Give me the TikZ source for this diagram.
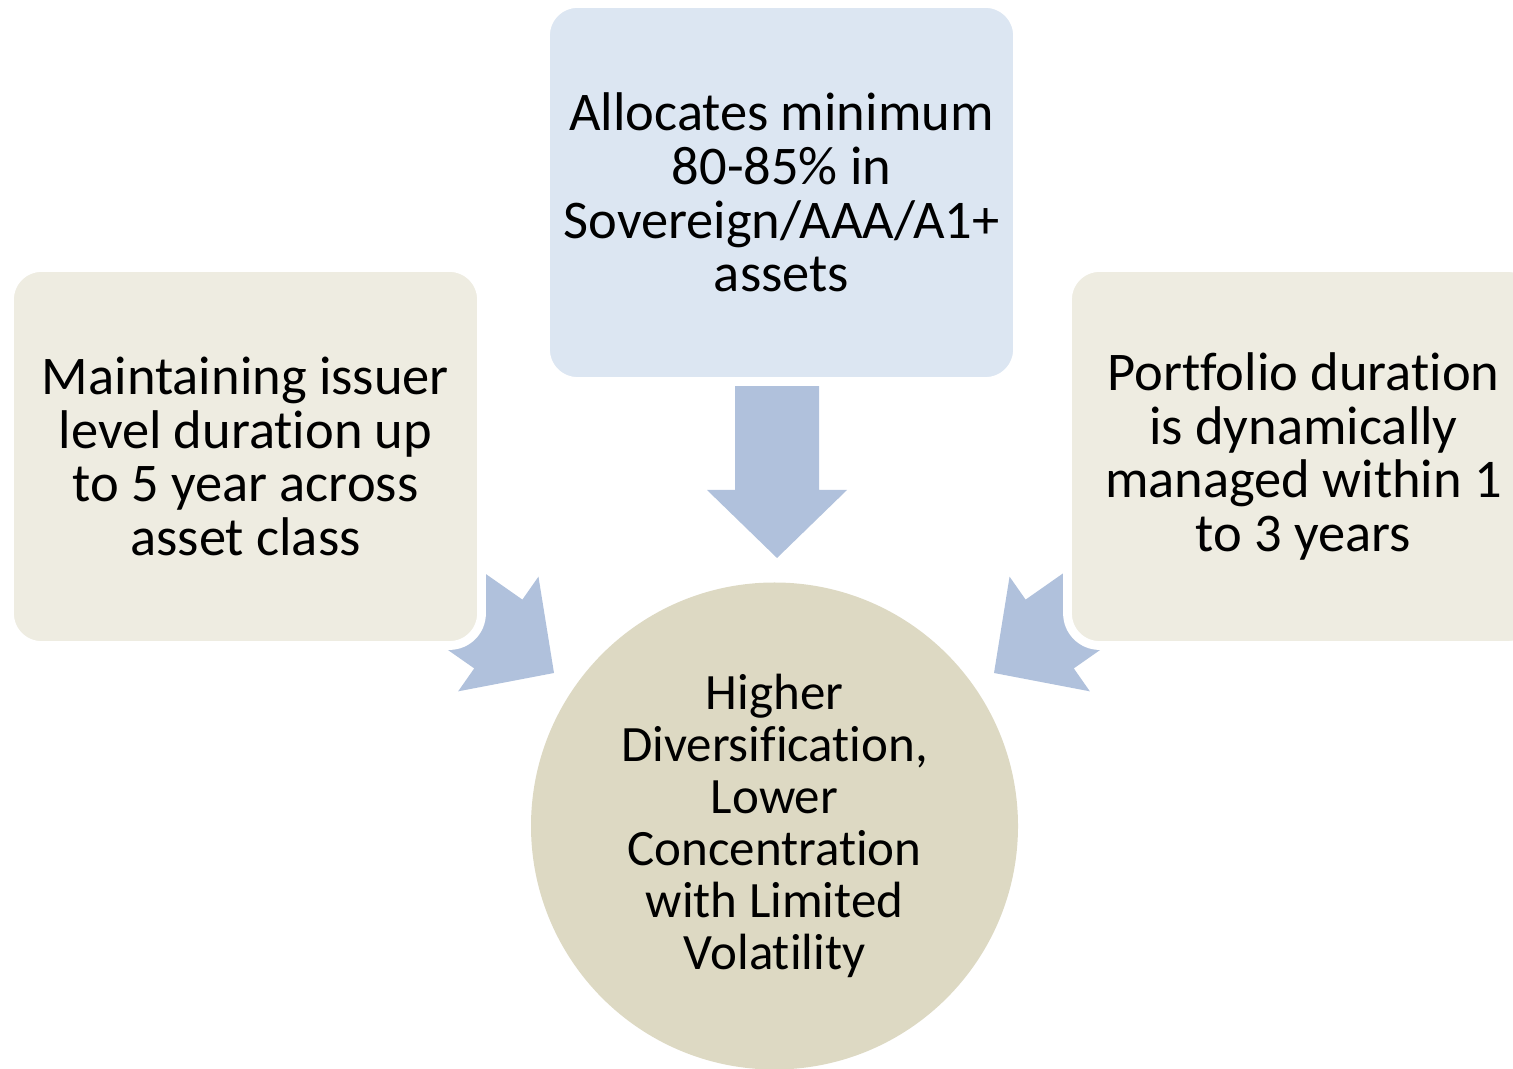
\documentclass[tikz,border=0pt]{standalone}
\usepackage{fontspec}
\setmainfont{Carlito}[Ligatures={NoCommon}]
\usetikzlibrary{backgrounds}
\definecolor{boxblue}{RGB}{220,230,242}
\definecolor{boxsand}{RGB}{238,236,225}
\definecolor{hubsand}{RGB}{221,217,195}
\definecolor{arrowblue}{RGB}{176,193,220}

\tikzset{
  card/.style={draw=white, line width=2.5pt, rounded corners=0.32cm,
    minimum width=4.72cm, minimum height=3.78cm, align=center, inner sep=0pt,
    font=\fontsize{15.5}{15.3}\selectfont},
  hub/.style={circle, fill=hubsand, minimum size=4.87cm, align=center, inner sep=0pt,
    font=\fontsize{14.5}{14.8}\selectfont},
  pics/fatarrow/.style={code={
    \fill[arrowblue] (0,0) -- (-0.68,0.70) -- (-0.68,0.42) -- (-1.75,0.42)
      -- (-1.75,-0.42) -- (-0.68,-0.42) -- (-0.68,-0.70) -- cycle;}}
}

\begin{document}
\begin{tikzpicture}
  \useasboundingbox (0,0) rectangle (15.13,10.68);

  % boxes round the hub
  \node[card, fill=boxblue] (alloc) at (7.815,8.755) {Allocates minimum\\80-85\% in\\Sovereign/AAA/A1+\\assets};
  \node[card, fill=boxsand] (issuer) at (2.455,6.115) {Maintaining issuer\\level duration up\\to 5 year across\\asset class};
  \node[card, fill=boxsand] (duration) at (13.035,6.115) {Portfolio duration\\is dynamically\\managed within 1\\to 3 years};
  \node[hub] (result) at (7.745,2.42) {Higher\\Diversification,\\Lower\\Concentration\\with Limited\\Volatility};

  % arrow tips
  \coordinate (tipT) at (7.77,5.10);
  \coordinate (tipL) at (5.54,3.95);
  \coordinate (tipR) at (9.94,3.95);

  \begin{pgfonlayer}{background}
    \pic[rotate=-90] at (tipT) {fatarrow};
    \pic[rotate=-35] at (tipL) {fatarrow};
    \pic[rotate=-145] at (tipR) {fatarrow};
  \end{pgfonlayer}
\end{tikzpicture}
\end{document}
